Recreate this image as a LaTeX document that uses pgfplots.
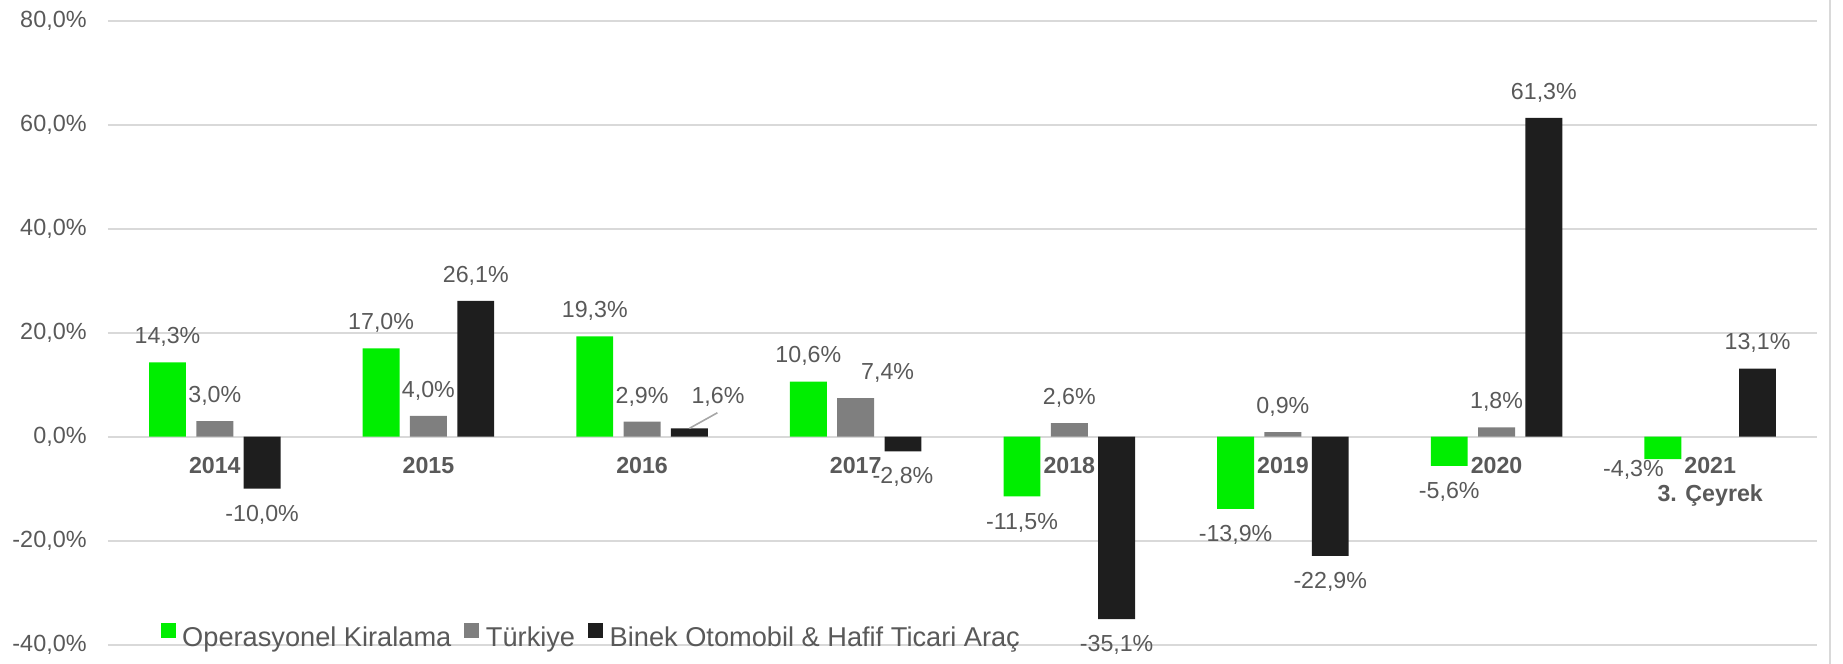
\documentclass[border=0pt]{standalone}
\usepackage{fontspec}
\setmainfont{Liberation Sans}
\usepackage{pgfplots}
\usepackage{pgfplotstable}
\pgfplotsset{compat=1.18}
\definecolor{cgreen}{HTML}{00EE00}
\definecolor{cgray}{HTML}{7F7F7F}
\definecolor{cblack}{HTML}{1E1E1E}
\definecolor{gridc}{HTML}{D9D9D9}
\definecolor{txt}{HTML}{595959}
\definecolor{leader}{HTML}{A6A6A6}

% x = group index + bar offset; dx, dy = label offset (pt)
\pgfplotstableread{
x y dx dy
-0.2215 14.3 0 12.6
0.7785 17.0 0 12.6
1.7785 19.3 0 12.6
2.7785 10.6 0 12.6
3.7785 -11.5 0 -13
4.7785 -13.9 0 -13
5.7785 -5.6 0 -13
6.7785 -4.3 -14.7 -5.5
}\greendata

\pgfplotstableread{
x y dx dy
0 3.0 0 12.6
1 4.0 0 12.6
2 2.9 0 12.6
3 7.4 16 12.6
4 2.6 0 12.6
5 0.9 0 12.6
6 1.8 0 12.6
}\graydata

\pgfplotstableread{
x y dx dy
0.2215 -10.0 0 -13
1.2215 26.1 0 12.6
2.2215 1.6 14.3 15.8
3.2215 -2.8 0 -13
4.2215 -35.1 0 -13
5.2215 -22.9 0 -13
6.2215 61.3 0 12.6
7.2215 13.1 0 12.6
}\blackdata

\pgfplotsset{
  lbl/.style={
    ybar, bar shift=0pt, bar width=0.173, draw=none,
    point meta=y,
    nodes near coords={\pgfmathprintnumber[fixed,fixed zerofill,precision=1,use comma]{\pgfplotspointmeta}\%},
    visualization depends on={\thisrow{dx} \as \dx},
    visualization depends on={\thisrow{dy} \as \dy},
    nodes near coords style={anchor=center, inner sep=0pt, xshift=\dx pt, yshift=\dy pt,
      font=\fontsize{11.6}{13.8}\selectfont, text=txt},
  }
}

\begin{document}
\begin{tikzpicture}
\begin{axis}[
  at={(54pt,9.65pt)}, anchor=south west,
  scale only axis, width=854.5pt, height=312pt,
  xmin=-0.5, xmax=7.5, ymin=-40, ymax=80,
  ytick={-40,-20,0,20,40,60,80},
  xtick={0,1,2,3,4,5,6,7},
  xticklabels={2014,2015,2016,2017,2018,2019,2020,{2021\\3. Çeyrek}},
  axis x line=middle, axis y line=left,
  axis line style={draw=none},
  major tick length=0pt,
  ymajorgrids, xmajorgrids=false,
  grid style={gridc, line width=1pt},
  /pgf/number format/assume math mode=true,
  yticklabel={\pgfmathprintnumber[fixed,fixed zerofill,precision=1,use comma]{\tick}\%},
  yticklabel style={font=\fontsize{11.7}{14}\selectfont, text=txt, anchor=east, inner sep=0pt, xshift=-10.5pt},
  xticklabel style={font=\fontsize{11.6}{13.8}\selectfont\bfseries, text=txt, anchor=north, inner sep=0pt, yshift=-10.35pt, align=center},
  clip=false,
  legend style={at={(0.0308,0.014)}, anchor=west, draw=none, fill=none,
    legend columns=-1, font=\fontsize{13.6}{16}\selectfont, text=txt,
    inner sep=0pt, outer sep=0pt, nodes={inner sep=0pt},
    /tikz/every odd column/.append style={column sep=3.3pt},
    /tikz/every even column/.append style={column sep=6.5pt}},
  legend image code/.code={\fill[#1] (0pt,0.2pt) rectangle (7.5pt,7.7pt);},
]
\addplot[lbl, fill=cgreen] table[x=x,y=y] {\greendata};
\addlegendentry{Operasyonel Kiralama}
\addplot[lbl, fill=cgray] table[x=x,y=y] {\graydata};
\addlegendentry{Türkiye}
\addplot[lbl, fill=cblack] table[x=x,y=y] {\blackdata};
\addlegendentry{Binek Otomobil \& Hafif Ticari Araç}
\draw[leader, line width=0.8pt] (axis cs:2.2215,1.6) -- ++(14pt,7.8pt);
\end{axis}
\draw[gridc, line width=0.8pt] (915pt,0pt) -- (915pt,332pt);
\pgfresetboundingbox
\useasboundingbox (0pt,0pt) rectangle (921.5pt,332pt);
\end{tikzpicture}
\end{document}
